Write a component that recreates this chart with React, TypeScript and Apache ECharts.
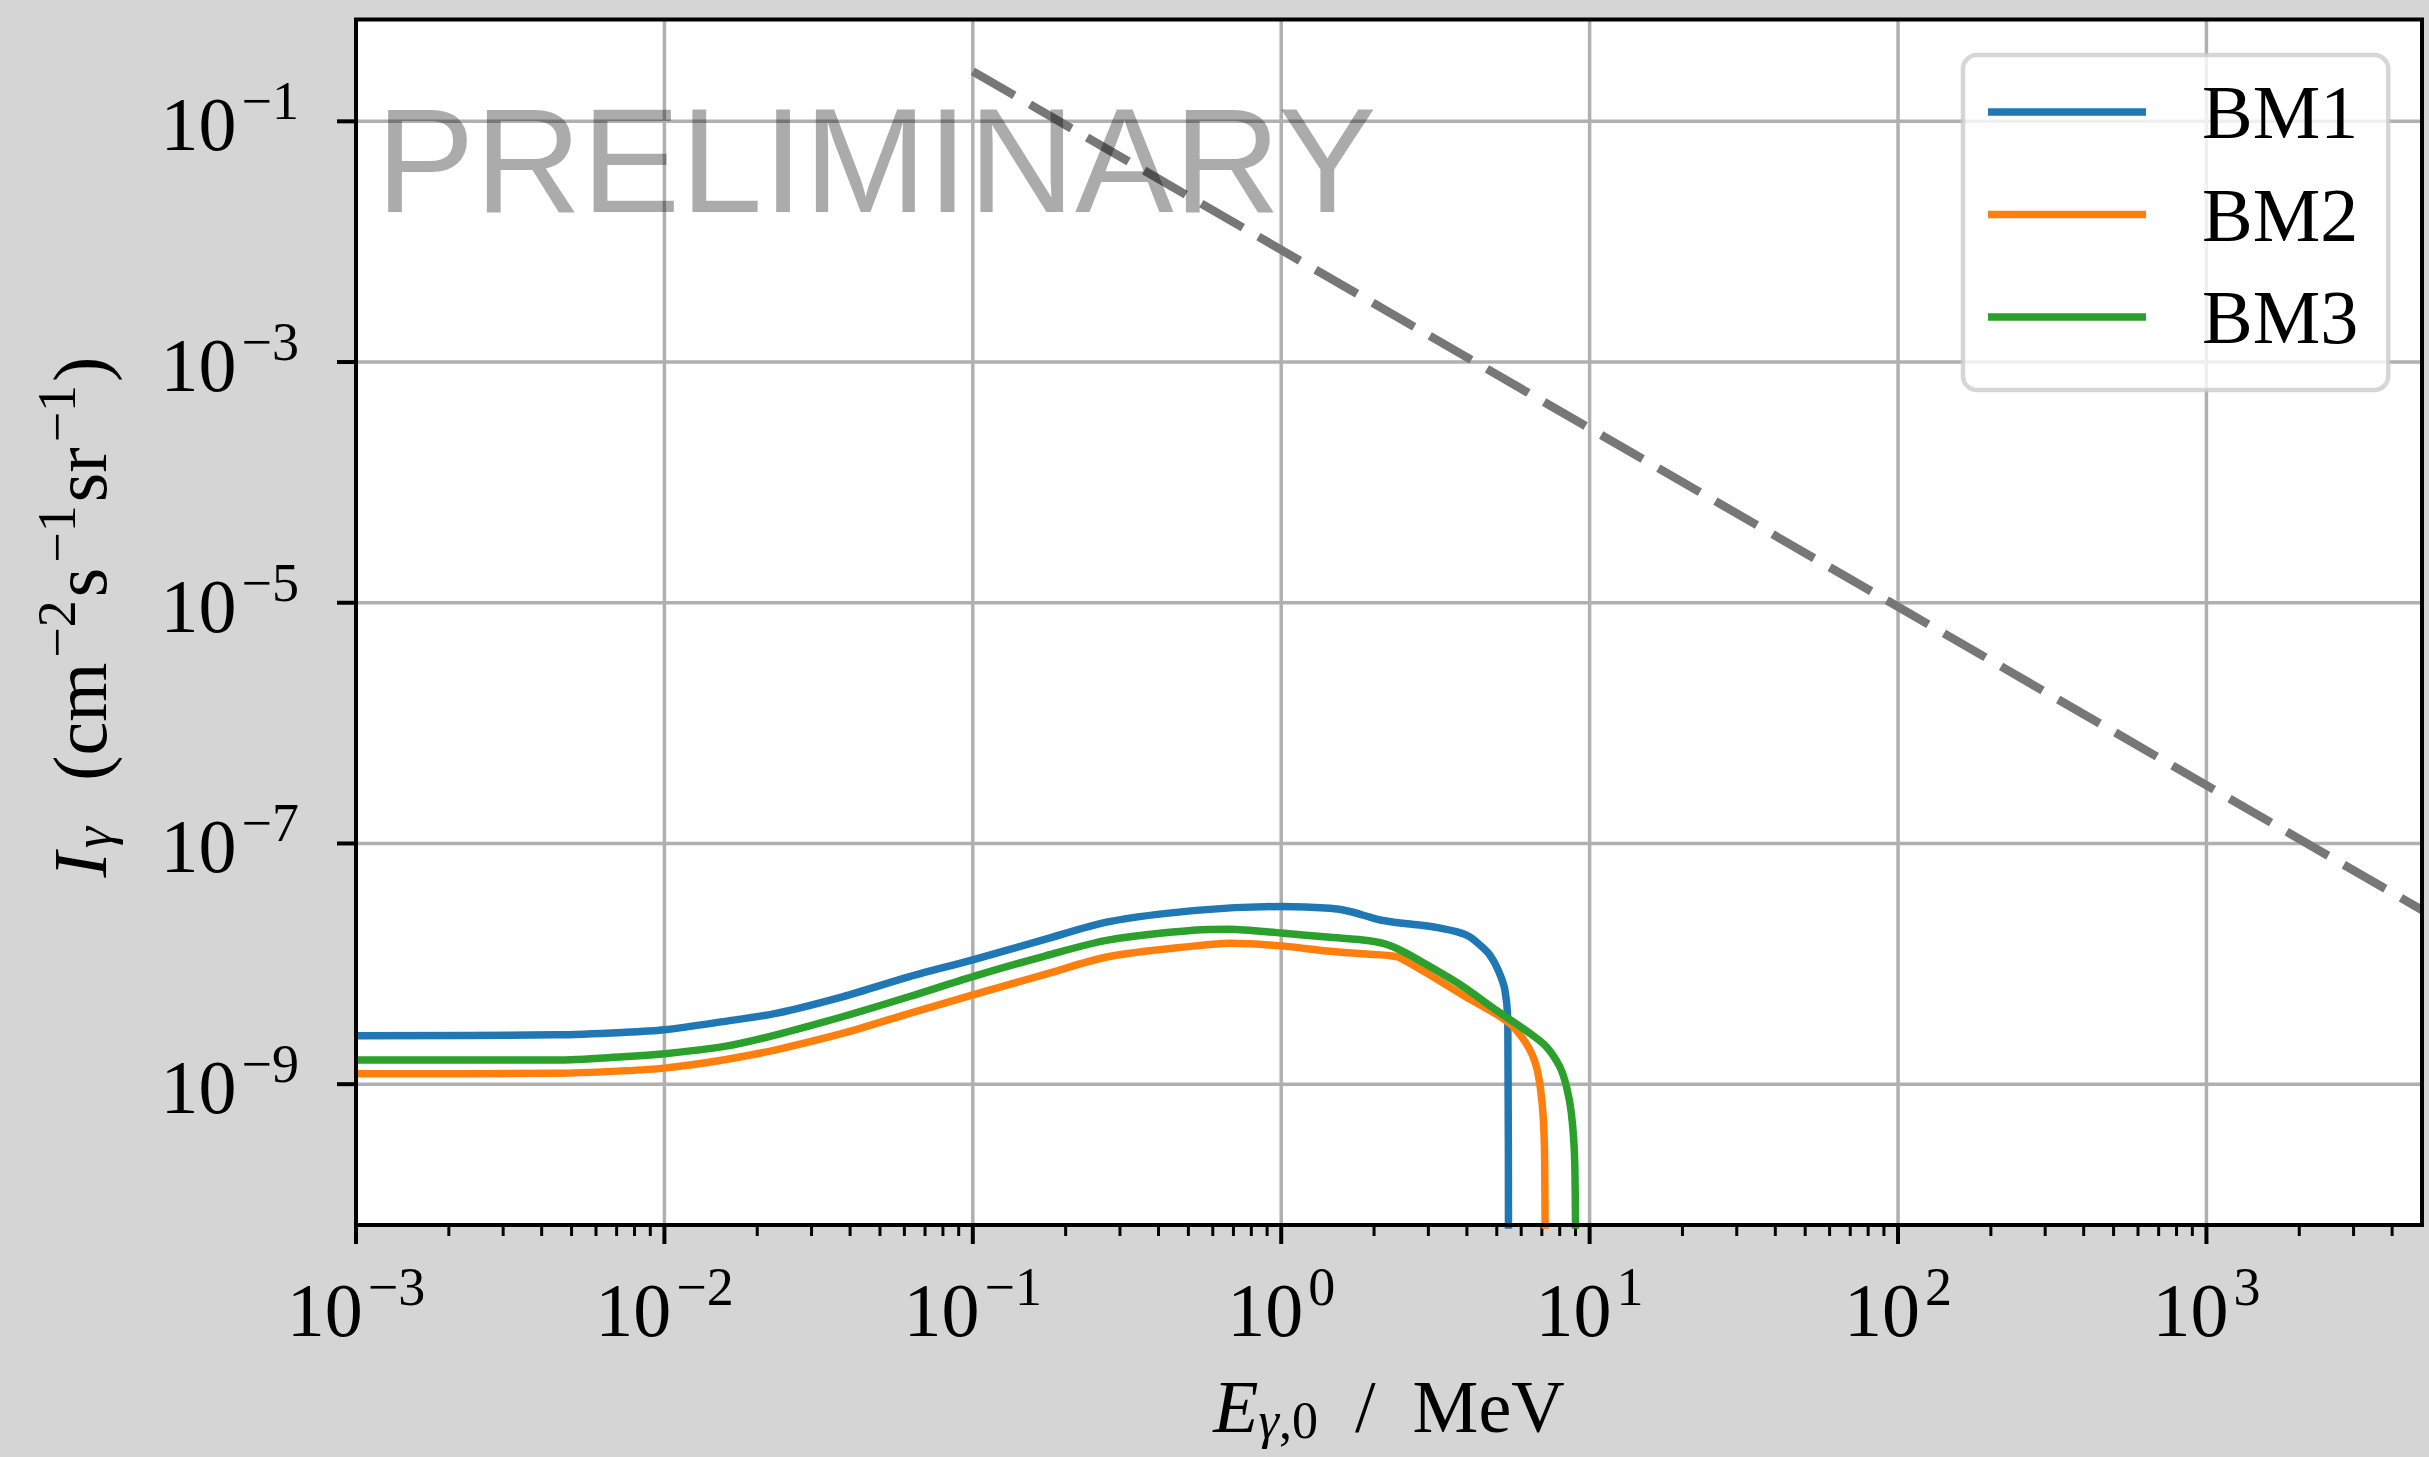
import React, { useEffect, useRef } from "react";
import * as echarts from "echarts";

// ---------- axis limits (real units) ----------
const X_MIN = 1e-3;
const X_MAX = 5000;
const Y_MIN = Math.pow(10, -10.17);
const Y_MAX = Math.pow(10, -0.154);

// ---------- ticks ----------
const xMajorTicks = [1e-3, 1e-2, 1e-1, 1, 10, 100, 1000];
const xTickExponents = ["−3", "−2", "−1", "0", "1", "2", "3"];
const yMajorTicks = [1e-9, 1e-7, 1e-5, 1e-3, 1e-1];
const yTickExponents = ["−9", "−7", "−5", "−3", "−1"];
const minorMultipliers = [2, 3, 4, 5, 6, 7, 8, 9];

// ---------- series data ----------
const bm1E = [0.001, 0.00446, 0.00733, 0.01, 0.0155, 0.023, 0.038, 0.0624, 0.1, 0.169, 0.277, 0.53, 1.0, 1.44, 1.67, 1.94, 2.14, 2.48, 2.89, 3.18, 3.7, 4.08, 4.4, 4.74, 5.05, 5.31, 5.43, 5.46];
const bm1I = [2.52e-9, 2.57e-9, 2.69e-9, 2.83e-9, 3.31e-9, 3.88e-9, 5.35e-9, 7.83e-9, 1.08e-8, 1.58e-8, 2.24e-8, 2.78e-8, 2.99e-8, 2.89e-8, 2.72e-8, 2.44e-8, 2.29e-8, 2.17e-8, 2.08e-8, 2.01e-8, 1.85e-8, 1.68e-8, 1.44e-8, 1.19e-8, 8.9e-9, 6.1e-9, 3.2e-9, 1e-11];

const bm2E = [0.001, 0.00446, 0.00733, 0.01, 0.0155, 0.023, 0.038, 0.0624, 0.1, 0.169, 0.277, 0.53, 0.681, 1.0, 1.44, 1.84, 2.36, 2.67, 3.03, 3.88, 4.99, 5.65, 6.4, 6.8, 7.06, 7.15, 7.19];
const bm2I = [1.22e-9, 1.23e-9, 1.29e-9, 1.36e-9, 1.59e-9, 1.93e-9, 2.65e-9, 3.88e-9, 5.52e-9, 8.09e-9, 1.15e-8, 1.41e-8, 1.48e-8, 1.41e-8, 1.27e-8, 1.21e-8, 1.15e-8, 9.8e-9, 8.1e-9, 5.5e-9, 3.8e-9, 3.0e-9, 1.93e-9, 1.23e-9, 5.7e-10, 2.2e-10, 1e-11];

const bm3E = [0.001, 0.00446, 0.00733, 0.01, 0.0155, 0.023, 0.038, 0.0624, 0.1, 0.169, 0.277, 0.53, 0.681, 1.0, 1.44, 1.84, 2.14, 2.48, 3.03, 3.88, 4.99, 6.4, 7.24, 8.0, 8.41, 8.73, 8.95, 9.02];
const bm3I = [1.59e-9, 1.59e-9, 1.69e-9, 1.79e-9, 2.05e-9, 2.57e-9, 3.65e-9, 5.35e-9, 7.83e-9, 1.15e-8, 1.58e-8, 1.91e-8, 1.94e-8, 1.8e-8, 1.66e-8, 1.58e-8, 1.48e-8, 1.27e-8, 9.5e-9, 6.5e-9, 4.1e-9, 2.65e-9, 2.05e-9, 1.4e-9, 9.6e-10, 5.7e-10, 2.2e-10, 1e-11];

const refE = [0.1, 5000];
const refI = [0.26, 2.8e-8];

const seriesNames = ["BM1", "BM2", "BM3"];
const seriesColors = ["#1f77b4", "#ff7f0e", "#2ca02c"];

// ---------- styling ----------
const SERIF = '"Liberation Serif", "Times New Roman", serif';
const SANS = '"Liberation Sans", Arial, sans-serif';
const GRID_COLOR = "#b0b0b0";
const L = Math.log10;

const RICH = {
  // tick labels
  b: { fontFamily: SERIF, fontSize: 76, lineHeight: 76, fill: "#000" },
  s: { fontFamily: SERIF, fontSize: 54, lineHeight: 54, padding: [0, 0, 46, 5], fill: "#000" },
  // x title
  i: { fontFamily: SERIF, fontStyle: "italic", fontSize: 74, lineHeight: 74, fill: "#000" },
  r: { fontFamily: SERIF, fontSize: 74, lineHeight: 74, fill: "#000" },
  si: { fontFamily: SERIF, fontStyle: "italic", fontSize: 52, lineHeight: 52, padding: [26, 0, 0, 0], fill: "#000" },
  sd: { fontFamily: SERIF, fontSize: 52, lineHeight: 52, padding: [26, 0, 0, 0], fill: "#000" },
  // y title
  t: { fontFamily: SERIF, fontSize: 76, lineHeight: 76, fill: "#000" },
  ti: { fontFamily: SERIF, fontStyle: "italic", fontSize: 76, lineHeight: 76, padding: [0, 2, 0, 0], fill: "#000" },
  tsub: { fontFamily: SERIF, fontStyle: "italic", fontSize: 54, lineHeight: 54, padding: [26, 8, 0, 2], fill: "#000" },
  tsup: { fontFamily: SERIF, fontSize: 54, lineHeight: 54, padding: [0, 3, 46, 5], fill: "#000" },
};

const toPairs = (E: number[], I: number[]) => E.map((e, k) => [L(e), L(I[k])]);

export default function App() {
  const ref = useRef<HTMLDivElement | null>(null);

  useEffect(() => {
    document.body.style.margin = "0";
    const el = ref.current;
    if (!el) return;
    const chart = echarts.init(el, null, { renderer: "svg" });

    const LX0 = L(X_MIN), LX1 = L(X_MAX), LY0 = L(Y_MIN), LY1 = L(Y_MAX);

    const xMinor: number[][] = [];
    for (let d = -3; d <= 3; d++) {
      for (const m of minorMultipliers) {
        const v = m * Math.pow(10, d);
        if (v < X_MAX) xMinor.push([L(v), LY0]);
      }
    }

    const lineSeries = [bm1E, bm2E, bm3E].map((E, k) => ({
      name: seriesNames[k],
      type: "line",
      data: toPairs(E, [bm1I, bm2I, bm3I][k]),
      showSymbol: false,
      symbol: "none",
      smooth: 0.3,
      color: seriesColors[k],
      lineStyle: { color: seriesColors[k], width: 7.5, cap: "butt", join: "round" },
      itemStyle: { color: seriesColors[k] },
      emphasis: { disabled: true },
      clip: true,
      z: 3,
    }));

    const option: any = {
      animation: false,
      backgroundColor: "#d5d5d5",
      grid: {
        left: 356,
        top: 19.5,
        width: 2066,
        height: 1205.5,
        show: true,
        backgroundColor: "#ffffff",
        borderWidth: 0,
        containLabel: false,
        outerBoundsMode: "none",
      },
      xAxis: {
        type: "value",
        min: LX0,
        max: LX1,
        axisLine: { show: false },
        axisTick: { show: false },
        axisLabel: { show: false },
        splitLine: { show: false },
      },
      yAxis: {
        type: "value",
        min: LY0,
        max: LY1,
        axisLine: { show: false },
        axisTick: { show: false },
        axisLabel: { show: false },
        splitLine: { show: false },
      },
      legend: {
        data: seriesNames,
        orient: "vertical",
        left: 1963,
        top: 55,
        icon: "rect",
        itemWidth: 158,
        itemHeight: 7.5,
        itemGap: 22.5,
        padding: [17, 30, 33, 25],
        backgroundColor: "rgba(255,255,255,0.8)",
        borderColor: "rgba(204,204,204,0.8)",
        borderWidth: 4.5,
        borderRadius: 14,
        itemStyle: { borderWidth: 0 },
        textStyle: { fontFamily: SERIF, fontSize: 76, lineHeight: 80, color: "#000", padding: [0, 0, 0, 51] },
        selectedMode: false,
        z: 10,
      },
      series: [
        // x major: gridlines, ticks, labels
        {
          type: "custom",
          silent: true,
          z: 1,
          data: xMajorTicks.map((v) => [L(v), LY0]),
          renderItem: (params: any, api: any) => {
            const cs = params.coordSys;
            const x = api.coord([api.value(0), api.value(1)])[0];
            const bottom = cs.y + cs.height;
            return {
              type: "group",
              children: [
                { type: "line", shape: { x1: x, y1: cs.y, x2: x, y2: bottom }, style: { stroke: GRID_COLOR, lineWidth: 3.5 } },
                { type: "line", shape: { x1: x, y1: bottom, x2: x, y2: bottom + 19 }, style: { stroke: "#000", lineWidth: 4 } },
                {
                  type: "text",
                  x,
                  y: bottom + 85,
                  style: {
                    text: `{b|10}{s|${xTickExponents[params.dataIndex]}}`,
                    rich: RICH,
                    align: "center",
                    verticalAlign: "middle",
                    fill: "#000",
                  },
                },
              ],
            };
          },
        },
        // x minor ticks
        {
          type: "custom",
          silent: true,
          z: 1,
          data: xMinor,
          renderItem: (params: any, api: any) => {
            const cs = params.coordSys;
            const x = api.coord([api.value(0), api.value(1)])[0];
            const bottom = cs.y + cs.height;
            return { type: "line", shape: { x1: x, y1: bottom, x2: x, y2: bottom + 11 }, style: { stroke: "#000", lineWidth: 3 } };
          },
        },
        // y major: gridlines, ticks, labels
        {
          type: "custom",
          silent: true,
          z: 1,
          data: yMajorTicks.map((v) => [LX0, L(v)]),
          renderItem: (params: any, api: any) => {
            const cs = params.coordSys;
            const y = api.coord([api.value(0), api.value(1)])[1];
            return {
              type: "group",
              children: [
                { type: "line", shape: { x1: cs.x, y1: y, x2: cs.x + cs.width, y2: y }, style: { stroke: GRID_COLOR, lineWidth: 3.5 } },
                { type: "line", shape: { x1: cs.x - 19, y1: y, x2: cs.x, y2: y }, style: { stroke: "#000", lineWidth: 4 } },
                {
                  type: "text",
                  x: cs.x - 57,
                  y: y + 3,
                  style: {
                    text: `{b|10}{s|${yTickExponents[params.dataIndex]}}`,
                    rich: RICH,
                    align: "right",
                    verticalAlign: "middle",
                    fill: "#000",
                  },
                },
              ],
            };
          },
        },
        ...lineSeries,
        {
          name: "reference",
          type: "line",
          data: toPairs(refE, refI),
          showSymbol: false,
          symbol: "none",
          color: "#777777",
          lineStyle: { color: "#777777", width: 8.5, type: [48, 18], cap: "butt" },
          emphasis: { disabled: true },
          clip: true,
          z: 3,
        },
        // frame (spines)
        {
          type: "custom",
          silent: true,
          z: 5,
          data: [[LX0, LY0]],
          renderItem: (params: any) => {
            const cs = params.coordSys;
            return {
              type: "rect",
              shape: { x: cs.x, y: cs.y, width: cs.width, height: cs.height },
              style: { fill: "none", stroke: "#000", lineWidth: 4 },
            };
          },
        },
      ],
      graphic: [
        {
          type: "text",
          x: 376,
          y: 160,
          z: 20,
          silent: true,
          style: {
            text: "PRELIMINARY",
            fontFamily: SANS,
            fontSize: 148,
            fill: "rgba(0,0,0,0.33)",
            align: "left",
            verticalAlign: "middle",
          },
        },
        {
          type: "text",
          x: 1389,
          y: 1407,
          z: 20,
          silent: true,
          style: {
            text: "{i|E}{si|γ}{sd|,0}{r|\u2002/\u2002MeV}",
            rich: RICH,
            align: "center",
            verticalAlign: "middle",
            fill: "#000",
          },
        },
        {
          type: "text",
          x: 80,
          y: 617,
          rotation: Math.PI / 2,
          z: 20,
          silent: true,
          style: {
            text: "{ti|I}{tsub|γ}{t|\u2002(cm}{tsup|−2}{t|s}{tsup|−1}{t|sr}{tsup|−1}{t|)}",
            rich: RICH,
            align: "center",
            verticalAlign: "middle",
            fill: "#000",
          },
        },
      ],
    };

    chart.setOption(option);
    return () => {
      chart.dispose();
    };
  }, []);

  return (
    <div
      ref={ref}
      style={{ position: "fixed", left: 0, top: 0, width: 2429, height: 1457 }}
    />
  );
}
